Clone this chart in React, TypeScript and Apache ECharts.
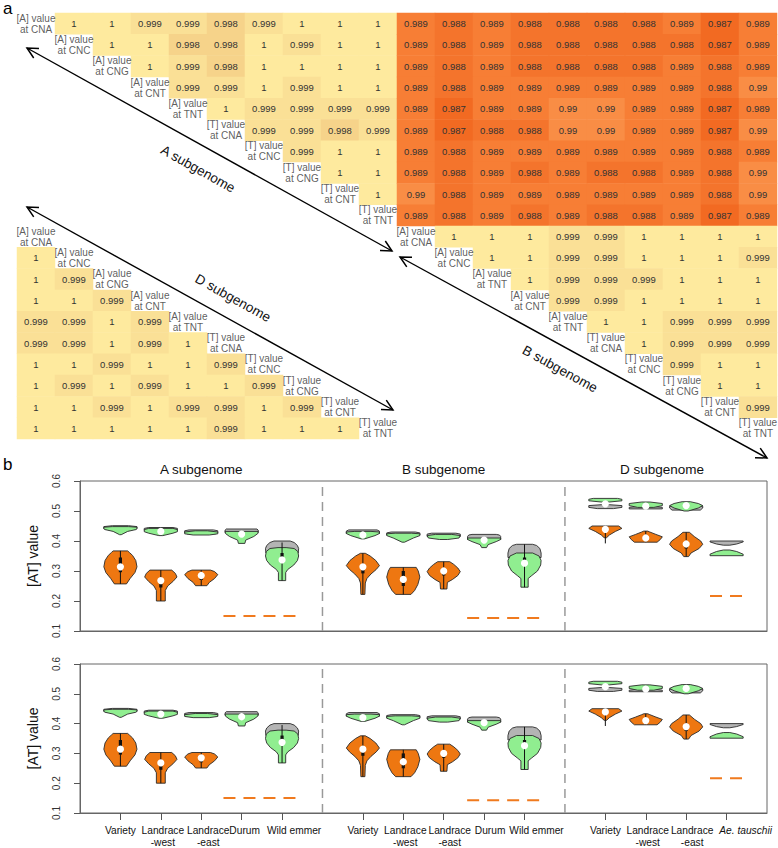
import React, { useEffect, useRef } from "react";
import * as echarts from "echarts";

const FONT = "'Liberation Sans', Arial, Helvetica, sans-serif";

// ---------------- panel a : correlation tables ----------------
const headerLabels = [
  "[A] value\nat CNA", "[A] value\nat CNC", "[A] value\nat CNG", "[A] value\nat CNT", "[A] value\nat TNT",
  "[T] value\nat CNA", "[T] value\nat CNC", "[T] value\nat CNG", "[T] value\nat CNT", "[T] value\nat TNT",
];
const headerLabelsB = [
  "[A] value\nat CNA", "[A] value\nat CNC", "[A] value\nat TNT", "[A] value\nat CNT", "[A] value\nat TNT",
  "[T] value\nat CNA", "[T] value\nat CNC", "[T] value\nat CNG", "[T] value\nat CNT", "[T] value\nat TNT",
];

// upper triangles (row r -> columns r+1..9)
const aSubgenome = [
  [1, 1, 0.999, 0.999, 0.998, 0.999, 1, 1, 1],
  [1, 1, 0.998, 0.998, 1, 0.999, 1, 1],
  [1, 0.999, 0.998, 1, 1, 1, 1],
  [0.999, 0.999, 1, 0.999, 1, 1],
  [1, 0.999, 0.999, 0.999, 0.999],
  [0.999, 0.999, 0.998, 0.999],
  [0.999, 1, 1],
  [1, 1],
  [1],
];
const bSubgenome = [
  [1, 1, 1, 0.999, 0.999, 1, 1, 1, 1],
  [1, 1, 0.999, 0.999, 1, 1, 1, 0.999],
  [1, 0.999, 0.999, 0.999, 1, 1, 1],
  [0.999, 0.999, 1, 1, 1, 1],
  [1, 1, 0.999, 0.999, 0.999],
  [1, 0.999, 0.999, 0.999],
  [0.999, 1, 1],
  [1, 1],
  [0.999],
];
// lower triangle (row r+1 -> columns 0..r)
const dSubgenome = [
  [1],
  [1, 0.999],
  [1, 1, 0.999],
  [0.999, 0.999, 1, 0.999],
  [0.999, 0.999, 1, 0.999, 1],
  [1, 1, 0.999, 1, 1, 0.999],
  [1, 0.999, 1, 0.999, 1, 1, 0.999],
  [1, 1, 0.999, 1, 0.999, 0.999, 1, 0.999],
  [1, 1, 1, 1, 1, 0.999, 1, 1, 1],
];
// full block between subgenomes
const crossGenome = [
  [0.989, 0.988, 0.989, 0.988, 0.988, 0.988, 0.988, 0.989, 0.987, 0.989],
  [0.989, 0.988, 0.989, 0.988, 0.988, 0.988, 0.988, 0.988, 0.987, 0.989],
  [0.989, 0.988, 0.989, 0.988, 0.988, 0.988, 0.988, 0.989, 0.988, 0.989],
  [0.989, 0.988, 0.989, 0.989, 0.989, 0.989, 0.989, 0.989, 0.988, 0.99],
  [0.989, 0.987, 0.989, 0.989, 0.99, 0.99, 0.989, 0.989, 0.987, 0.989],
  [0.989, 0.987, 0.988, 0.988, 0.99, 0.99, 0.989, 0.989, 0.987, 0.99],
  [0.989, 0.988, 0.989, 0.989, 0.989, 0.989, 0.989, 0.989, 0.988, 0.989],
  [0.989, 0.988, 0.989, 0.988, 0.989, 0.988, 0.988, 0.989, 0.988, 0.99],
  [0.99, 0.988, 0.989, 0.989, 0.989, 0.989, 0.989, 0.989, 0.988, 0.99],
  [0.989, 0.988, 0.989, 0.988, 0.989, 0.988, 0.988, 0.989, 0.987, 0.989],
];

const colorPieces = [
  { gte: 0.9995, color: "#FEEA9E" },
  { gte: 0.9985, lt: 0.9995, color: "#FAE096" },
  { gte: 0.995, lt: 0.9985, color: "#F6D38A" },
  { gte: 0.9895, lt: 0.995, color: "#F98D45" },
  { gte: 0.9885, lt: 0.9895, color: "#F77E35" },
  { gte: 0.9875, lt: 0.9885, color: "#F4742C" },
  { lt: 0.9875, color: "#F26A22" },
];

// ---------------- panel b : violins ----------------
const tickPositions = [1, 2, 3, 4, 5, 7, 8, 9, 10, 11, 13, 14, 15, 16];
const tickNames = [
  "Variety", "Landrace\n-west", "Landrace\n-east", "Durum", "Wild emmer",
  "Variety", "Landrace\n-west", "Landrace\n-east", "Durum", "Wild emmer",
  "Variety", "Landrace\n-west", "Landrace\n-east", "Ae. tauschii",
];
const italicNames = [false, false, false, false, false, false, false, false, false, false, false, false, false, true];
// pixel nudges of the tick labels (the original staggers them to avoid overlap)
const labelNudge = [0, 2, 7, 3, 12, 0, 2, 6, 6, 12, 0, 2, 6, 19];
const sectionTitles = ["A subgenome", "B subgenome", "D subgenome"];
const sectionCenters = [3, 9, 14.4];
const separators = [6, 12];

type Violin = {
  pos: number;
  profile: number[][]; // [value, half width] from bottom to top
  median?: number;
  box?: number[];
  whisker?: number[];
};

const orangeViolins: Violin[] = [
  { pos: 1, profile: [[0.257, 0.15], [0.275, 0.24], [0.295, 0.36], [0.314, 0.41], [0.335, 0.38], [0.352, 0.3], [0.362, 0.22], [0.367, 0.18]], median: 0.314, box: [0.296, 0.345], whisker: [0.257, 0.367] },
  { pos: 2, profile: [[0.2, 0.11], [0.235, 0.11], [0.25, 0.17], [0.265, 0.3], [0.28, 0.4], [0.292, 0.36], [0.303, 0.27]], median: 0.268, box: [0.245, 0.27], whisker: [0.2, 0.303] },
  { pos: 3, profile: [[0.251, 0.14], [0.262, 0.2], [0.275, 0.33], [0.288, 0.41], [0.298, 0.33], [0.303, 0.23]], median: 0.285, box: [0.27, 0.29], whisker: [0.251, 0.303] },
  { pos: 7, profile: [[0.222, 0.05], [0.26, 0.06], [0.275, 0.1], [0.29, 0.2], [0.305, 0.33], [0.318, 0.41], [0.335, 0.32], [0.35, 0.18], [0.359, 0.06]], median: 0.314, box: [0.292, 0.31], whisker: [0.222, 0.359] },
  { pos: 8, profile: [[0.222, 0.19], [0.235, 0.28], [0.255, 0.36], [0.28, 0.41], [0.3, 0.37], [0.312, 0.32]], median: 0.272, box: [0.25, 0.3], whisker: [0.222, 0.312] },
  { pos: 9, profile: [[0.24, 0.08], [0.262, 0.09], [0.272, 0.22], [0.285, 0.35], [0.298, 0.41], [0.31, 0.35], [0.322, 0.25], [0.331, 0.15]], median: 0.3, box: [0.285, 0.305], whisker: [0.24, 0.331] },
  { pos: 13, profile: [[0.411, 0.03], [0.42, 0.1], [0.432, 0.25], [0.442, 0.41], [0.45, 0.33]], median: 0.439, box: [0.43, 0.445], whisker: [0.392, 0.45] },
  { pos: 14, profile: [[0.396, 0.28], [0.405, 0.36], [0.414, 0.41], [0.422, 0.25], [0.43, 0.1], [0.433, 0.05]], median: 0.41, box: [0.405, 0.415], whisker: [0.396, 0.433] },
  { pos: 15, profile: [[0.348, 0.06], [0.36, 0.12], [0.375, 0.32], [0.389, 0.41], [0.4, 0.36], [0.415, 0.2], [0.429, 0.08]], median: 0.39, box: [0.375, 0.4], whisker: [0.348, 0.429] },
];

const greenViolins: Violin[] = [
  { pos: 1, profile: [[0.421, 0.02], [0.432, 0.18], [0.438, 0.38], [0.441, 0.41], [0.446, 0.41], [0.448, 0.2]] },
  { pos: 2, profile: [[0.418, 0.05], [0.426, 0.3], [0.431, 0.41], [0.438, 0.41], [0.442, 0.3]], median: 0.432 },
  { pos: 3, profile: [[0.42, 0.2], [0.424, 0.41], [0.43, 0.41], [0.434, 0.15]] },
  { pos: 4, profile: [[0.392, 0.08], [0.403, 0.1], [0.415, 0.3], [0.425, 0.4], [0.432, 0.41]], median: 0.423 },
  { pos: 5, profile: [[0.268, 0.09], [0.295, 0.09], [0.305, 0.14], [0.32, 0.29], [0.335, 0.38], [0.35, 0.41], [0.365, 0.39], [0.375, 0.3], [0.378, 0.1]], median: 0.337, box: [0.345, 0.36], whisker: [0.268, 0.395] },
  { pos: 7, profile: [[0.407, 0.04], [0.418, 0.3], [0.425, 0.41], [0.43, 0.41], [0.432, 0.2]], median: 0.42 },
  { pos: 8, profile: [[0.396, 0.03], [0.41, 0.25], [0.418, 0.41], [0.424, 0.41], [0.426, 0.2]] },
  { pos: 9, profile: [[0.405, 0.1], [0.41, 0.38], [0.418, 0.41], [0.422, 0.2]] },
  { pos: 10, profile: [[0.378, 0.06], [0.388, 0.1], [0.398, 0.3], [0.405, 0.41], [0.41, 0.41]], median: 0.403 },
  { pos: 11, profile: [[0.246, 0.09], [0.275, 0.09], [0.285, 0.18], [0.3, 0.32], [0.32, 0.4], [0.335, 0.41], [0.35, 0.36], [0.36, 0.2]], median: 0.326, box: [0.33, 0.345], whisker: [0.246, 0.389] },
  { pos: 13, profile: [[0.53, 0.1], [0.534, 0.41], [0.539, 0.41], [0.542, 0.3]], median: 0.524 },
  { pos: 14, profile: [[0.512, 0.2], [0.518, 0.41], [0.525, 0.41], [0.53, 0.1]], median: 0.516 },
  { pos: 15, profile: [[0.5, 0.05], [0.51, 0.3], [0.518, 0.41], [0.525, 0.3], [0.531, 0.1]], median: 0.518 },
  { pos: 16, profile: [[0.351, 0.41], [0.356, 0.41], [0.365, 0.25], [0.37, 0.08]] },
];

const grayViolins: Violin[] = [
  { pos: 1, profile: [[0.438, 0.3], [0.441, 0.41], [0.448, 0.41], [0.451, 0.2]] },
  { pos: 2, profile: [[0.43, 0.3], [0.436, 0.41], [0.442, 0.41], [0.445, 0.3]] },
  { pos: 3, profile: [[0.424, 0.35], [0.428, 0.41], [0.434, 0.41], [0.437, 0.3]] },
  { pos: 4, profile: [[0.428, 0.41], [0.436, 0.41], [0.44, 0.38]] },
  { pos: 5, profile: [[0.36, 0.4], [0.375, 0.41], [0.385, 0.38], [0.395, 0.3], [0.4, 0.2]] },
  { pos: 7, profile: [[0.425, 0.41], [0.433, 0.41], [0.437, 0.35]] },
  { pos: 8, profile: [[0.42, 0.41], [0.427, 0.41], [0.43, 0.3]] },
  { pos: 9, profile: [[0.415, 0.41], [0.423, 0.41], [0.426, 0.3]] },
  { pos: 10, profile: [[0.405, 0.41], [0.415, 0.41], [0.42, 0.38], [0.422, 0.3]] },
  { pos: 11, profile: [[0.345, 0.41], [0.36, 0.41], [0.375, 0.38], [0.385, 0.3], [0.389, 0.2]] },
  { pos: 13, profile: [[0.508, 0.2], [0.512, 0.41], [0.518, 0.41], [0.521, 0.1]] },
  { pos: 14, profile: [[0.507, 0.41], [0.512, 0.41], [0.515, 0.2]] },
  { pos: 15, profile: [[0.503, 0.35], [0.51, 0.41], [0.516, 0.41]] },
  { pos: 16, profile: [[0.386, 0.08], [0.39, 0.25], [0.397, 0.41], [0.4, 0.41]] },
];

const refFrom = [3.55, 9.58, 15.59];
const refTo = [5.4, 11.41, 16.41];
const refValue = [0.15, 0.143, 0.217];

// ---------------- layout constants ----------------
const HEAT = { left: 17, top: 13, width: 760, height: 426 };
const PLOT_LEFT = 80;
const PLOT_WIDTH = 687;
const PLOT_TOPS = [481, 664];
const PLOT_H = 150;
const X_MAX = 17;
const TICK_FONT = 10.2;

function violinSeries(list: Violin[], fill: string, idx: number, name: string) {
  return {
    type: "custom",
    name,
    xAxisIndex: idx,
    yAxisIndex: idx,
    silent: true,
    data: list.map((v, i) => [v.pos, v.profile[0][0], i]),
    renderItem: (params: any, api: any) => {
      const v = list[api.value(2)];
      const left = v.profile.map(([y, h]) => api.coord([v.pos - h, y]));
      const right = v.profile.slice().reverse().map(([y, h]) => api.coord([v.pos + h, y]));
      const children: any[] = [
        { type: "polygon", shape: { points: [...left, ...right] }, style: { fill, stroke: "#2a2a2a", lineWidth: 0.9 } },
      ];
      if (v.whisker) {
        const a = api.coord([v.pos, v.whisker[0]]);
        const b = api.coord([v.pos, v.whisker[1]]);
        children.push({ type: "line", shape: { x1: a[0], y1: a[1], x2: b[0], y2: b[1] }, style: { stroke: "#111", lineWidth: 1 } });
      }
      if (v.box) {
        const a = api.coord([v.pos, v.box[1]]);
        const b = api.coord([v.pos, v.box[0]]);
        children.push({ type: "rect", shape: { x: a[0] - 1.6, y: a[1], width: 3.2, height: b[1] - a[1] }, style: { fill: "#111" } });
      }
      if (v.median != null) {
        const c = api.coord([v.pos, v.median]);
        children.push({ type: "circle", shape: { cx: c[0], cy: c[1], r: 3.6 }, style: { fill: "#fff" } });
      }
      return { type: "group", children };
    },
  };
}

function arrowGraphics(x1: number, y1: number, x2: number, y2: number) {
  const dx = x2 - x1, dy = y2 - y1;
  const len = Math.sqrt(dx * dx + dy * dy);
  const ux = dx / len, uy = dy / len;
  const L = 12, th = (27 * Math.PI) / 180;
  const head = (tx: number, ty: number, sx: number, sy: number) => {
    const c = Math.cos(th), s = Math.sin(th);
    const ax = sx * c - sy * s, ay = sx * s + sy * c;
    const bx = sx * c + sy * s, by = -sx * s + sy * c;
    return {
      type: "polyline",
      shape: { points: [[tx + L * ax, ty + L * ay], [tx, ty], [tx + L * bx, ty + L * by]] },
      style: { stroke: "#000", lineWidth: 1.5, fill: null },
    };
  };
  return [
    { type: "line", shape: { x1, y1, x2, y2 }, style: { stroke: "#000", lineWidth: 1.4 } },
    head(x1, y1, ux, uy),
    head(x2, y2, -ux, -uy),
  ];
}

function rotatedText(text: string, cx: number, cy: number, slope: number) {
  return {
    type: "text",
    x: cx,
    y: cy,
    rotation: -Math.atan(slope),
    style: { text, fontSize: 13.5, fontFamily: FONT, fill: "#111", textAlign: "center", textVerticalAlign: "middle" },
  };
}

function buildOption() {
  const cells: any[] = [];
  const push = (c: number, r: number, v: number) => cells.push([c, r, v]);
  aSubgenome.forEach((row, r) => row.forEach((v, k) => push(r + 1 + k, r, v)));
  crossGenome.forEach((row, r) => row.forEach((v, c) => push(10 + c, r, v)));
  bSubgenome.forEach((row, r) => row.forEach((v, k) => push(10 + r + 1 + k, 10 + r, v)));
  dSubgenome.forEach((row, i) => row.forEach((v, c) => push(c, 10 + i + 1, v)));

  const headers: any[] = [];
  headerLabels.forEach((t, r) => headers.push({ value: [r, r], name: t }));
  headerLabelsB.forEach((t, r) => headers.push({ value: [10 + r, 10 + r], name: t }));
  headerLabels.forEach((t, r) => headers.push({ value: [r, 10 + r], name: t }));

  const idx20 = Array.from({ length: 20 }, (_, i) => String(i));

  // rich styles for tick labels (one per label, to carry its nudge)
  const rich: any = {};
  tickNames.forEach((_, i) => {
    rich["s" + i] = {
      fontSize: TICK_FONT,
      fontFamily: FONT,
      color: "#111",
      lineHeight: 11.5,
      fontStyle: italicNames[i] ? "italic" : "normal",
      padding: [0, 0, 0, 2 * labelNudge[i]],
    };
  });
  // invisible end labels so that the real first/last labels are never auto-hidden
  const labelValues = [0, ...tickPositions, X_MAX];

  const xAxes: any[] = [{ type: "category", gridIndex: 0, data: idx20, show: false }];
  const yAxes: any[] = [{ type: "category", gridIndex: 0, data: idx20, inverse: true, show: false }];
  const grids: any[] = [{ ...HEAT, containLabel: false }];
  const series: any[] = [
    {
      type: "heatmap",
      xAxisIndex: 0,
      yAxisIndex: 0,
      data: cells,
      silent: true,
      itemStyle: { borderWidth: 0 },
      label: { show: true, fontSize: 9.5, fontFamily: FONT, color: "#333", formatter: (p: any) => String(p.value[2]) },
    },
    {
      type: "scatter",
      xAxisIndex: 0,
      yAxisIndex: 0,
      symbolSize: 1,
      silent: true,
      itemStyle: { color: "rgba(0,0,0,0)" },
      data: headers,
      label: { show: true, position: "inside", formatter: "{b}", fontSize: 10, lineHeight: 11, fontFamily: FONT, color: "#333" },
    },
  ];

  [0, 1].forEach((p) => {
    const gi = p + 1;
    grids.push({
      left: PLOT_LEFT, top: PLOT_TOPS[p], width: PLOT_WIDTH, height: PLOT_H,
      show: true, borderColor: "#666", borderWidth: 1, backgroundColor: "transparent",
    });
    const isBottom = p === 1;
    xAxes.push({
      type: "value", gridIndex: gi, min: 0, max: X_MAX,
      splitLine: { show: false },
      axisLine: { show: true, onZero: false, lineStyle: { color: "#666" } },
      axisTick: isBottom
        ? { show: true, customValues: tickPositions, length: 7, lineStyle: { color: "#555" } }
        : { show: false },
      axisLabel: isBottom
        ? {
            show: true,
            customValues: labelValues,
            hideOverlap: false,
            fontSize: TICK_FONT,
            lineHeight: 11.5,
            fontFamily: FONT,
            color: "#111",
            margin: 12,
            formatter: (v: number) => {
              const i = tickPositions.indexOf(Math.round(v));
              if (i < 0) return " ";
              return tickNames[i].split("\n").map((line) => `{s${i}|${line}}`).join("\n");
            },
            rich,
          }
        : { show: false },
    });
    yAxes.push({
      type: "value", gridIndex: gi, min: 0.1, max: 0.6, interval: 0.1,
      name: "[AT] value", nameLocation: "middle", nameGap: 40,
      nameTextStyle: { fontSize: 14, fontFamily: FONT, color: "#111" },
      splitLine: { show: false },
      axisLine: { show: true, lineStyle: { color: "#666" } },
      axisTick: { show: true, length: 6, lineStyle: { color: "#555" } },
      axisLabel: { rotate: 90, fontSize: 10, fontFamily: FONT, color: "#333", margin: 19, formatter: (v: number) => v.toFixed(1) },
    });
    separators.forEach((s) =>
      series.push({
        type: "line", xAxisIndex: gi, yAxisIndex: gi, silent: true, symbol: "none",
        data: [[s, 0.1], [s, 0.6]],
        lineStyle: { color: "#999", width: 1.5, type: [9, 6] },
      })
    );
    refValue.forEach((v, i) =>
      series.push({
        type: "line", xAxisIndex: gi, yAxisIndex: gi, silent: true, symbol: "none",
        data: [[refFrom[i], v], [refTo[i], v]],
        lineStyle: { color: "#F07A1E", width: 2, type: [12, 8] },
      })
    );
    series.push(violinSeries(grayViolins, "#B4B4B4", gi, "gray" + p));
    series.push(violinSeries(greenViolins, "#90EE90", gi, "green" + p));
    series.push(violinSeries(orangeViolins, "#EE7711", gi, "orange" + p));
  });

  const xPix = (v: number) => PLOT_LEFT + (PLOT_WIDTH * v) / X_MAX;

  const graphic: any[] = [
    { type: "text", x: 3, y: 0, style: { text: "a", fontSize: 17, fontFamily: FONT, fill: "#000" } },
    { type: "text", x: 3, y: 456, style: { text: "b", fontSize: 17, fontFamily: FONT, fill: "#000" } },
    ...arrowGraphics(27, 48, 392, 251),
    ...arrowGraphics(27, 207, 393, 410),
    ...arrowGraphics(400, 257, 767, 458),
    rotatedText("A subgenome", 198, 169, 203 / 365),
    rotatedText("D subgenome", 233, 298, 203 / 366),
    rotatedText("B subgenome", 560, 369, 201 / 367),
    ...sectionTitles.map((t, i) => ({
      type: "text",
      x: xPix(sectionCenters[i]),
      y: 469,
      style: { text: t, fontSize: 13.5, fontFamily: FONT, fill: "#111", textAlign: "center", textVerticalAlign: "middle" },
    })),
  ];

  return {
    animation: false,
    backgroundColor: "#fff",
    textStyle: { fontFamily: FONT },
    visualMap: {
      type: "piecewise",
      show: false,
      seriesIndex: 0,
      dimension: 2,
      pieces: colorPieces,
    },
    grid: grids,
    xAxis: xAxes,
    yAxis: yAxes,
    series,
    graphic,
  };
}

export default function App() {
  const ref = useRef<HTMLDivElement>(null);
  useEffect(() => {
    if (!ref.current) return;
    const chart = echarts.init(ref.current, undefined, { renderer: "svg" });
    chart.setOption(buildOption() as any);
    return () => chart.dispose();
  }, []);
  return (
    <div
      ref={ref}
      style={{ position: "fixed", left: 0, top: 0, width: 778, height: 848, background: "#fff" }}
    />
  );
}
